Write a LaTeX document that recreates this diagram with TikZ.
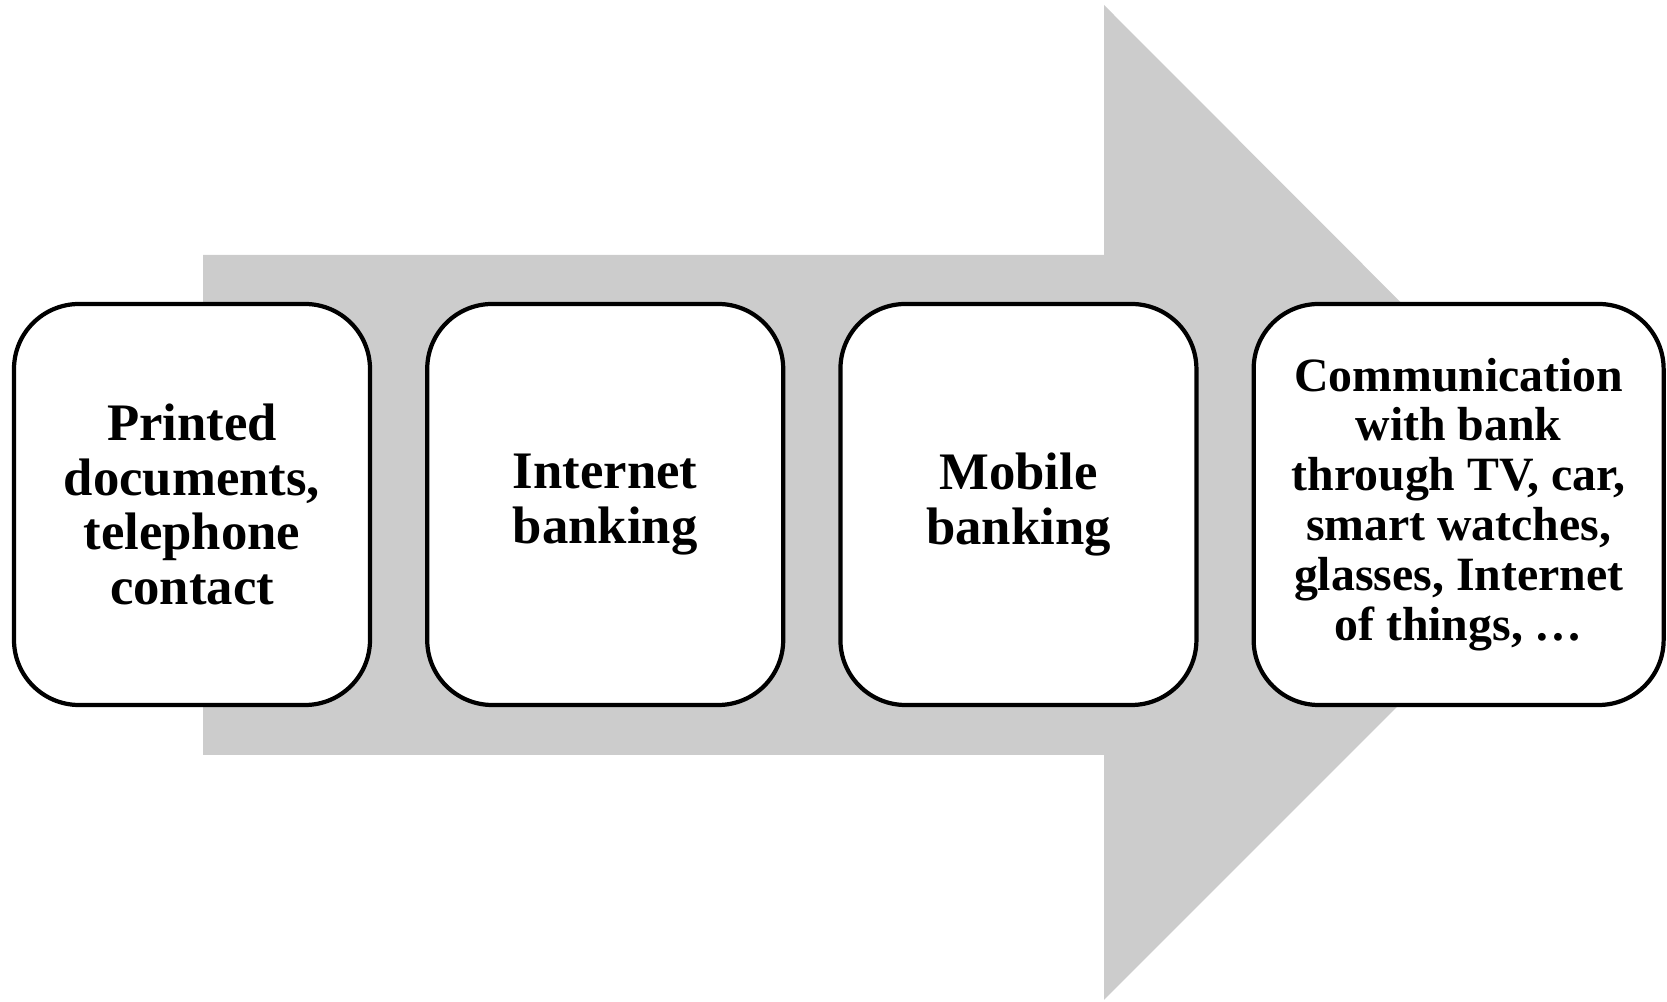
\documentclass[tikz,border=0pt]{standalone}
\usepackage{fontspec}
\setmainfont{Liberation Serif}
\usetikzlibrary{positioning}

\begin{document}
\begin{tikzpicture}[
  stage/.style={draw, line width=1.2pt, fill=white, rounded corners=.65cm, align=center, inner sep=2pt,
    font=\fontsize{15}{15.6}\selectfont\bfseries, minimum width=3.56cm, minimum height=4.01cm},
  widestage/.style={stage, minimum width=4.1cm, font=\fontsize{13.6}{14.2}\selectfont\bfseries}
]
\useasboundingbox (0,0) rectangle (16.67,10.02);

% Arrow
\fill[black!20] (2.03,7.47) -- (11.04,7.47) -- (11.04,9.97) -- (16.01,4.99)
  -- (11.04,0.02) -- (11.04,2.47) -- (2.03,2.47) -- cycle;

% Stages
\node[stage] (printed) at (1.92,4.975) {Printed\\documents,\\telephone\\contact};
\node[stage, right=.53cm of printed] (internet) {Internet\\banking};
\node[stage, right=.53cm of internet] (mobile) {Mobile\\banking};
\node[widestage, right=.53cm of mobile] (things) {%
Communication\\with bank\\through TV, car,\\smart watches,\\glasses, Internet\\of things, …};
\end{tikzpicture}
\end{document}
